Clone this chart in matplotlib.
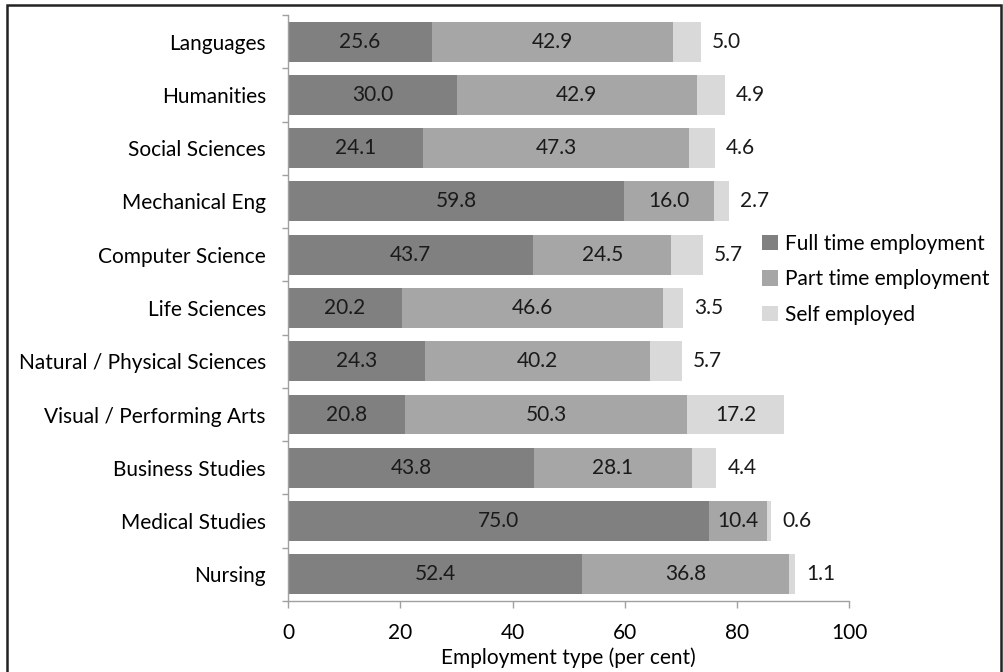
import matplotlib
matplotlib.use('Agg')
import matplotlib.pyplot as plt
from matplotlib.patches import Rectangle

# Data (per cent)
subjects = ['Languages', 'Humanities', 'Social Sciences', 'Mechanical Eng',
            'Computer Science', 'Life Sciences', 'Natural / Physical Sciences',
            'Visual / Performing Arts', 'Business Studies', 'Medical Studies', 'Nursing']
full_time = [25.6, 30.0, 24.1, 59.8, 43.7, 20.2, 24.3, 20.8, 43.8, 75.0, 52.4]
part_time = [42.9, 42.9, 47.3, 16.0, 24.5, 46.6, 40.2, 50.3, 28.1, 10.4, 36.8]
self_emp = [5.0, 4.9, 4.6, 2.7, 5.7, 3.5, 5.7, 17.2, 4.4, 0.6, 1.1]

series_names = ['Full time employment', 'Part time employment', 'Self employed']
colours = ['#808080', '#a6a6a6', '#d9d9d9']

plt.rcParams['font.family'] = ['Lato', 'DejaVu Sans']
fs = 15

fig = plt.figure(figsize=(10.04, 6.72), dpi=100)
ax = fig.add_axes([0.287, 0.1057, 0.559, 0.872])

y = list(range(len(subjects)))
left2 = [a for a in full_time]
left3 = [a + b for a, b in zip(full_time, part_time)]
h = 0.75
ax.barh(y, full_time, height=h, color=colours[0], label=series_names[0])
ax.barh(y, part_time, left=left2, height=h, color=colours[1], label=series_names[1])
ax.barh(y, self_emp, left=left3, height=h, color=colours[2], label=series_names[2])

# etiquetas dos segmentos
for i in y:
    ax.text(full_time[i] / 2, i, '%.1f' % full_time[i], ha='center', va='center',
            fontsize=fs, color='#1a1a1a')
    ax.text(left2[i] + part_time[i] / 2, i, '%.1f' % part_time[i], ha='center',
            va='center', fontsize=fs, color='#1a1a1a')
    if self_emp[i] > 10:
        ax.text(left3[i] + self_emp[i] / 2, i, '%.1f' % self_emp[i], ha='center',
                va='center', fontsize=fs, color='#1a1a1a')
    else:
        ax.annotate('%.1f' % self_emp[i], (left3[i] + self_emp[i], i),
                    xytext=(8, 0), textcoords='offset points', ha='left',
                    va='center', fontsize=fs, color='#1a1a1a')

ax.set_xlim(0, 100)
ax.set_ylim(len(subjects) - 0.5, -0.5)
ax.set_xticks([0, 20, 40, 60, 80, 100])
ax.set_yticks([i - 0.5 for i in range(len(subjects) + 1)])
ax.set_yticklabels([])
ax.set_yticks(y, minor=True)
ax.set_yticklabels(subjects, minor=True, fontsize=fs)
ax.tick_params(axis='y', which='minor', length=0, pad=16)
ax.tick_params(axis='y', which='major', length=4, color='#a0a0a0', width=1)
ax.tick_params(axis='x', length=5, color='#a0a0a0', width=1, labelsize=fs, pad=11)
ax.set_xlabel('Employment type (per cent)', fontsize=fs, labelpad=3)

for s in ['top', 'right']:
    ax.spines[s].set_visible(False)
for s in ['left', 'bottom']:
    ax.spines[s].set_color('#a0a0a0')
    ax.spines[s].set_linewidth(1)

ax.legend(loc='upper left', bbox_to_anchor=(0.845, 0.627), frameon=False,
          fontsize=fs, handlelength=0.75, handleheight=0.75,
          handletextpad=0.35, labelspacing=0.75, borderaxespad=0,
          borderpad=0)

# moldura externa
fig.patches.append(Rectangle((0.007, -0.01), 0.99, 1.003, transform=fig.transFigure,
                             fill=False, edgecolor='#222222', linewidth=1.8))

fig.savefig('out.png', dpi=100)
